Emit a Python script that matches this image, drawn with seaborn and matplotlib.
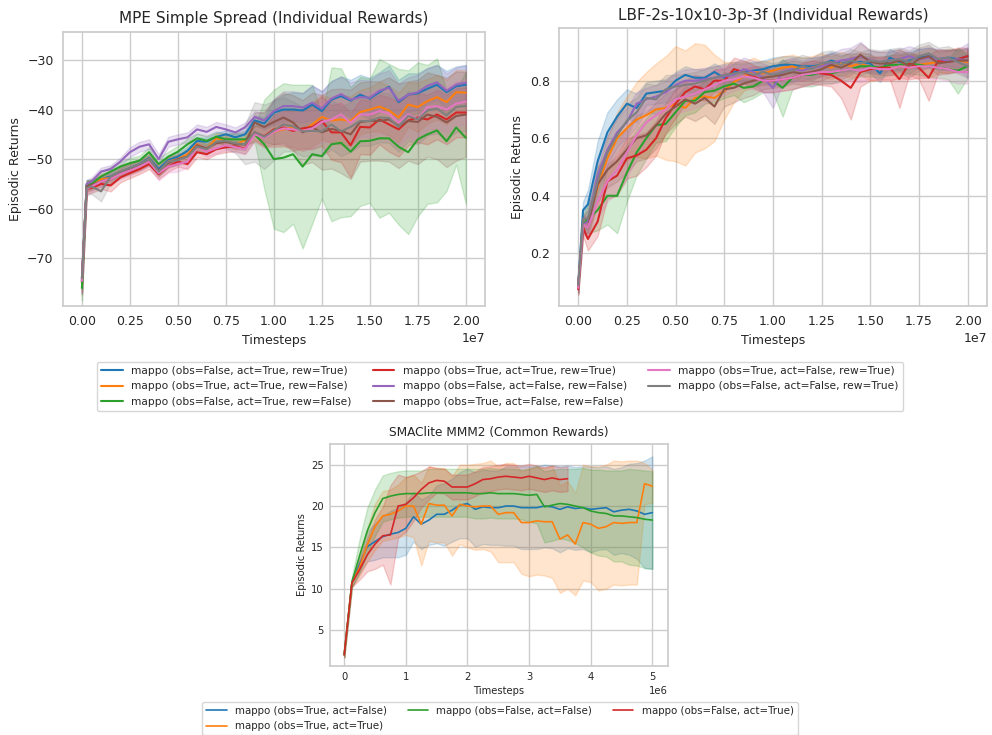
import matplotlib
matplotlib.use("Agg")
import matplotlib.pyplot as plt
from matplotlib.lines import Line2D
from matplotlib.ticker import MultipleLocator
import pandas as pd
import seaborn as sns

sns.set_theme(style="whitegrid")
plt.rcParams['font.family'] = ['DejaVu Sans']

# ---------------- data ----------------
STEPS_LONG_M = [0, 0.25, 0.5, 1.0, 1.5, 2.0, 2.5, 3.0, 3.5, 4.0, 4.5, 5.0, 5.5, 6.0, 6.5,
                7.0, 7.5, 8.0, 8.5, 9.0, 9.5, 10.0, 10.5, 11.0, 11.5, 12.0, 12.5, 13.0,
                13.5, 14.0, 14.5, 15.0, 15.5, 16.0, 16.5, 17.0, 17.5, 18.0, 18.5, 19.0,
                19.5, 20.0]

LABELS_8 = [
    "mappo (obs=False, act=True, rew=True)",
    "mappo (obs=True, act=True, rew=False)",
    "mappo (obs=False, act=True, rew=False)",
    "mappo (obs=True, act=True, rew=True)",
    "mappo (obs=False, act=False, rew=False)",
    "mappo (obs=True, act=False, rew=False)",
    "mappo (obs=True, act=False, rew=True)",
    "mappo (obs=False, act=False, rew=True)",
]
COLORS_8 = ["#1f77b4", "#ff7f0e", "#2ca02c", "#d62728", "#9467bd", "#8c564b", "#e377c2", "#7f7f7f"]

# MPE means
MPE_BLUE = [-74.8, -55.2, -55.0, -54.0, -53.5, -52.5, -51.8, -51.0, -49.8, -52.0,
            -50.2, -49.5, -48.3, -46.3, -46.5, -45.5, -45.0, -45.6, -45.0, -42.2,
            -42.8, -40.6, -40.0, -40.0, -40.2, -39.0, -40.3, -38.0, -37.3, -38.2,
            -37.0, -37.8, -36.5, -35.4, -38.5, -37.0, -36.7, -35.8, -35.0, -36.5,
            -35.3, -35.0]
MPE_ORANGE = [-75.0, -55.5, -55.2, -54.0, -53.8, -52.5, -52.0, -51.2, -50.0, -52.5,
              -50.5, -50.0, -49.0, -47.0, -48.0, -45.8, -46.2, -47.0, -46.2, -44.8,
              -45.5, -44.5, -44.0, -43.6, -44.3, -43.0, -41.5, -42.2, -42.0, -42.3,
              -40.5, -40.0, -39.4, -40.2, -41.6, -39.0, -39.5, -38.3, -37.5, -38.5,
              -36.5, -36.6]
MPE_GREEN = [-76.0, -55.0, -55.0, -53.5, -52.5, -51.5, -50.8, -50.3, -48.6, -51.0,
             -49.5, -48.5, -47.0, -45.8, -46.3, -45.5, -46.0, -46.0, -46.0, -45.0,
             -47.0, -50.0, -49.7, -49.0, -51.5, -49.0, -49.4, -47.0, -46.7, -48.5,
             -46.4, -46.3, -45.8, -45.8, -47.5, -48.6, -46.0, -45.0, -44.2, -46.4,
             -43.6, -45.7]
MPE_RED = [-74.0, -56.0, -55.8, -55.0, -55.3, -53.7, -52.8, -52.0, -51.0, -53.0,
           -51.5, -50.5, -51.0, -48.6, -49.0, -48.0, -47.6, -47.4, -47.9, -44.6,
           -45.4, -44.0, -43.6, -44.3, -43.8, -43.5, -42.3, -44.6, -44.6, -47.2,
           -43.5, -43.6, -42.0, -43.0, -44.0, -42.2, -41.6, -42.0, -41.0, -42.0,
           -40.6, -40.6]
MPE_PURPLE = [-74.5, -55.0, -54.5, -52.5, -52.0, -50.5, -48.6, -47.5, -47.0, -50.0,
              -46.5, -46.0, -45.6, -44.0, -44.5, -43.5, -44.0, -44.6, -43.6, -41.5,
              -42.2, -40.3, -39.3, -39.3, -39.6, -38.6, -39.8, -37.8, -36.9, -38.0,
              -37.5, -37.6, -36.2, -35.6, -38.2, -37.0, -36.5, -35.2, -34.5, -36.2,
              -35.0, -34.6]
MPE_BROWN = [-74.5, -55.5, -55.2, -54.5, -54.0, -52.8, -52.0, -51.3, -50.3, -52.3,
             -50.8, -50.0, -49.5, -47.2, -47.8, -46.8, -46.5, -47.0, -47.0, -42.6,
             -43.5, -42.5, -41.6, -42.6, -44.6, -43.6, -44.6, -43.9, -44.3, -45.0,
             -42.5, -42.3, -42.3, -42.0, -43.3, -42.3, -42.5, -41.0, -41.5, -42.6,
             -41.3, -41.0]
MPE_PINK = [-74.5, -56.0, -55.5, -54.5, -54.0, -53.0, -52.3, -51.5, -50.5, -52.8,
            -51.5, -51.0, -50.5, -47.5, -48.5, -47.8, -47.2, -47.6, -48.0, -45.0,
            -45.7, -44.5, -43.8, -44.0, -44.3, -43.8, -42.5, -42.0, -41.0, -42.7,
            -41.0, -41.0, -40.3, -40.8, -42.6, -41.0, -42.0, -39.5, -39.3, -40.0,
            -38.8, -38.4]
MPE_GRAY = [-74.0, -55.8, -55.5, -56.5, -53.5, -52.5, -51.8, -51.0, -50.0, -52.5,
            -50.5, -50.2, -49.5, -47.5, -48.0, -46.5, -46.3, -46.8, -47.0, -44.5,
            -45.5, -44.2, -43.0, -43.4, -44.4, -44.3, -44.4, -43.0, -44.4, -43.5,
            -42.3, -42.3, -41.6, -41.7, -43.5, -41.3, -42.0, -40.2, -39.8, -41.2,
            -39.5, -39.3]

# MPE band half-widths
MPE_BLUE_HW = [2.5, 1.0, 0.8, 0.8, 0.8, 0.8, 0.8, 0.8, 0.8, 1.0,
               0.8, 0.8, 0.8, 0.8, 0.8, 0.8, 0.8, 0.8, 0.8, 1.0,
               1.2, 2.5, 3.0, 3.5, 3.5, 3.8, 4.0, 3.8, 4.0, 4.2,
               4.0, 4.2, 4.0, 4.3, 4.5, 4.3, 4.0, 4.2, 4.0, 4.3,
               4.0, 4.0]
MPE_ORANGE_HW = [2.5, 1.0, 1.0, 1.0, 1.5, 1.0, 1.0, 1.0, 1.0, 1.0,
                 1.0, 1.0, 1.0, 1.0, 1.0, 1.0, 1.0, 1.0, 1.0, 1.5,
                 2.0, 3.0, 3.5, 4.0, 4.0, 4.5, 4.5, 4.5, 5.0, 5.0,
                 4.5, 4.5, 5.0, 5.0, 5.0, 4.5, 5.0, 4.5, 4.5, 4.5,
                 4.5, 4.5]
MPE_GREEN_HW = [2.5, 0.8, 0.8, 1.0, 1.0, 1.0, 1.0, 1.0, 1.0, 1.2,
                1.0, 1.2, 1.2, 1.0, 1.0, 1.0, 1.2, 1.2, 1.2, 1.5,
                9.0, 14.0, 15.0, 14.0, 16.5, 14.0, 8.5, 15.5, 15.0, 13.0,
                13.0, 12.5, 16.0, 15.0, 15.7, 16.5, 15.5, 14.0, 14.5, 10.0,
                7.5, 13.3]
MPE_RED_HW = [2.5, 1.0, 1.0, 1.0, 1.2, 1.0, 1.0, 1.0, 1.0, 1.0,
              1.0, 1.0, 1.0, 1.0, 1.0, 1.0, 1.0, 1.0, 1.0, 1.5,
              2.0, 3.0, 3.5, 4.0, 4.0, 4.5, 5.0, 5.5, 6.0, 6.5,
              5.5, 5.5, 5.0, 5.5, 5.5, 5.0, 5.0, 5.0, 5.0, 5.0,
              5.0, 5.0]
MPE_PURPLE_HW = [2.5, 0.8, 0.8, 0.8, 0.8, 0.8, 1.0, 1.0, 1.0, 1.0,
                 1.0, 1.0, 1.0, 1.0, 1.0, 1.0, 1.0, 1.0, 1.0, 1.2,
                 1.5, 2.5, 3.0, 3.0, 3.0, 3.5, 3.5, 3.5, 3.5, 3.5,
                 3.5, 3.5, 3.5, 3.5, 3.5, 3.5, 3.5, 3.5, 3.5, 3.5,
                 3.5, 3.5]
MPE_BROWN_HW = [2.5, 1.0, 1.0, 1.0, 1.0, 1.0, 1.0, 1.0, 1.0, 1.0,
                1.0, 1.0, 1.0, 1.0, 1.0, 1.0, 1.0, 1.0, 1.2, 2.0,
                3.0, 4.5, 5.0, 5.5, 6.5, 7.0, 7.5, 8.0, 8.5, 9.0,
                8.0, 8.0, 8.0, 8.5, 8.5, 8.0, 8.5, 8.5, 8.5, 9.0,
                9.0, 8.5]
MPE_PINK_HW = [2.5, 1.0, 1.0, 1.0, 1.0, 1.0, 1.0, 1.0, 1.0, 1.5,
               1.2, 1.5, 1.2, 1.0, 1.0, 1.0, 1.0, 1.0, 1.0, 1.5,
               2.0, 3.0, 3.5, 3.5, 4.0, 4.0, 4.0, 4.5, 4.5, 4.5,
               4.5, 4.5, 4.5, 4.5, 4.5, 4.5, 4.5, 4.5, 4.5, 4.5,
               4.5, 4.5]
MPE_GRAY_HW = [3.0, 1.5, 1.5, 2.0, 1.2, 1.0, 1.0, 1.0, 1.0, 1.0,
               1.0, 1.0, 1.0, 1.0, 1.0, 1.0, 1.5, 2.0, 4.0, 6.0,
               6.5, 6.0, 5.5, 5.0, 5.0, 5.0, 5.0, 5.0, 5.0, 5.0,
               5.0, 5.0, 5.0, 5.0, 5.0, 5.0, 5.0, 5.0, 5.0, 5.0,
               5.0, 5.0]

# LBF means
LBF_BLUE = [0.085, 0.35, 0.37, 0.52, 0.62, 0.675, 0.72, 0.705, 0.755, 0.76,
            0.765, 0.80, 0.82, 0.81, 0.81, 0.83, 0.81, 0.83, 0.83, 0.835,
            0.84, 0.85, 0.855, 0.855, 0.85, 0.85, 0.855, 0.87, 0.86, 0.865,
            0.865, 0.86, 0.825, 0.88, 0.865, 0.87, 0.88, 0.885, 0.875, 0.88,
            0.875, 0.885]
LBF_ORANGE = [0.08, 0.30, 0.31, 0.43, 0.53, 0.60, 0.635, 0.665, 0.68, 0.70,
              0.705, 0.72, 0.705, 0.74, 0.745, 0.74, 0.765, 0.795, 0.815, 0.83,
              0.825, 0.835, 0.845, 0.85, 0.84, 0.845, 0.855, 0.845, 0.86, 0.85,
              0.86, 0.845, 0.84, 0.84, 0.85, 0.845, 0.855, 0.86, 0.865, 0.87,
              0.87, 0.865]
LBF_GREEN = [0.08, 0.30, 0.32, 0.35, 0.40, 0.40, 0.48, 0.55, 0.60, 0.645,
             0.65, 0.69, 0.73, 0.73, 0.76, 0.765, 0.78, 0.79, 0.775, 0.78,
             0.80, 0.80, 0.775, 0.81, 0.82, 0.82, 0.83, 0.825, 0.835, 0.84,
             0.85, 0.85, 0.845, 0.855, 0.855, 0.86, 0.855, 0.85, 0.845, 0.84,
             0.835, 0.85]
LBF_RED = [0.075, 0.29, 0.25, 0.31, 0.45, 0.47, 0.53, 0.54, 0.56, 0.60,
           0.67, 0.72, 0.76, 0.78, 0.77, 0.80, 0.80, 0.84, 0.83, 0.815,
           0.80, 0.80, 0.805, 0.81, 0.82, 0.83, 0.825, 0.82, 0.80, 0.775,
           0.83, 0.84, 0.845, 0.845, 0.805, 0.86, 0.845, 0.81, 0.87, 0.865,
           0.875, 0.885]
LBF_PURPLE = [0.085, 0.30, 0.31, 0.47, 0.56, 0.62, 0.655, 0.72, 0.735, 0.745,
              0.76, 0.785, 0.80, 0.80, 0.805, 0.81, 0.815, 0.82, 0.84, 0.83,
              0.81, 0.775, 0.83, 0.84, 0.835, 0.845, 0.85, 0.86, 0.87, 0.875,
              0.885, 0.87, 0.865, 0.87, 0.875, 0.885, 0.875, 0.88, 0.875, 0.87,
              0.875, 0.87]
LBF_BROWN = [0.085, 0.30, 0.29, 0.44, 0.49, 0.52, 0.56, 0.60, 0.61, 0.645,
             0.685, 0.71, 0.735, 0.72, 0.74, 0.71, 0.77, 0.775, 0.79, 0.80,
             0.81, 0.815, 0.82, 0.83, 0.825, 0.83, 0.84, 0.855, 0.845, 0.86,
             0.89, 0.865, 0.86, 0.86, 0.87, 0.85, 0.875, 0.885, 0.86, 0.865,
             0.87, 0.87]
LBF_PINK = [0.08, 0.30, 0.29, 0.38, 0.45, 0.49, 0.55, 0.61, 0.655, 0.68,
            0.70, 0.735, 0.745, 0.755, 0.77, 0.785, 0.80, 0.805, 0.815, 0.81,
            0.80, 0.80, 0.805, 0.81, 0.82, 0.825, 0.83, 0.83, 0.835, 0.84,
            0.835, 0.845, 0.84, 0.84, 0.85, 0.845, 0.85, 0.85, 0.845, 0.84,
            0.83, 0.83]
LBF_GRAY = [0.09, 0.32, 0.32, 0.45, 0.55, 0.61, 0.66, 0.69, 0.74, 0.735,
            0.77, 0.78, 0.785, 0.79, 0.80, 0.81, 0.82, 0.825, 0.83, 0.82,
            0.83, 0.82, 0.83, 0.835, 0.85, 0.84, 0.86, 0.865, 0.855, 0.87,
            0.86, 0.87, 0.865, 0.87, 0.875, 0.865, 0.885, 0.895, 0.875, 0.88,
            0.865, 0.85]

# LBF band half-widths
LBF_BLUE_HW = [0.02, 0.03, 0.05, 0.07, 0.07, 0.06, 0.05, 0.05, 0.04, 0.04,
               0.04, 0.03, 0.03, 0.03, 0.03, 0.03, 0.03, 0.03, 0.03, 0.03,
               0.03, 0.03, 0.03, 0.03, 0.03, 0.03, 0.03, 0.03, 0.03, 0.03,
               0.03, 0.035, 0.03, 0.03, 0.03, 0.03, 0.03, 0.03, 0.03, 0.03,
               0.03, 0.03]
LBF_ORANGE_HW = [0.02, 0.03, 0.04, 0.06, 0.07, 0.09, 0.11, 0.13, 0.15, 0.16,
                 0.18, 0.20, 0.20, 0.19, 0.18, 0.15, 0.10, 0.07, 0.05, 0.05,
                 0.04, 0.04, 0.04, 0.04, 0.04, 0.04, 0.04, 0.04, 0.04, 0.04,
                 0.04, 0.045, 0.04, 0.04, 0.04, 0.04, 0.045, 0.05, 0.04, 0.04,
                 0.04, 0.035]
LBF_GREEN_HW = [0.02, 0.03, 0.05, 0.07, 0.10, 0.13, 0.10, 0.08, 0.07, 0.06,
                0.06, 0.05, 0.05, 0.04, 0.04, 0.04, 0.04, 0.04, 0.05, 0.04,
                0.04, 0.04, 0.10, 0.04, 0.04, 0.04, 0.04, 0.035, 0.035, 0.035,
                0.035, 0.035, 0.035, 0.035, 0.035, 0.035, 0.035, 0.035, 0.035, 0.035,
                0.08, 0.04]
LBF_RED_HW = [0.02, 0.03, 0.04, 0.05, 0.06, 0.07, 0.07, 0.07, 0.06, 0.06,
              0.05, 0.05, 0.04, 0.04, 0.04, 0.04, 0.04, 0.04, 0.04, 0.04,
              0.04, 0.04, 0.04, 0.04, 0.04, 0.04, 0.04, 0.04, 0.06, 0.11,
              0.05, 0.04, 0.04, 0.04, 0.10, 0.04, 0.04, 0.08, 0.04, 0.04,
              0.04, 0.03]
LBF_PURPLE_HW = [0.02, 0.03, 0.04, 0.05, 0.05, 0.05, 0.05, 0.04, 0.04, 0.04,
                 0.04, 0.04, 0.04, 0.04, 0.04, 0.04, 0.04, 0.04, 0.04, 0.04,
                 0.05, 0.07, 0.04, 0.04, 0.035, 0.035, 0.035, 0.035, 0.04, 0.04,
                 0.05, 0.035, 0.035, 0.035, 0.035, 0.035, 0.035, 0.035, 0.035, 0.035,
                 0.035, 0.06]
LBF_BROWN_HW = [0.02, 0.03, 0.04, 0.06, 0.06, 0.07, 0.08, 0.08, 0.08, 0.08,
                0.07, 0.06, 0.06, 0.06, 0.06, 0.06, 0.06, 0.05, 0.05, 0.05,
                0.04, 0.04, 0.04, 0.04, 0.04, 0.04, 0.04, 0.04, 0.04, 0.04,
                0.04, 0.04, 0.04, 0.04, 0.04, 0.04, 0.04, 0.04, 0.04, 0.04,
                0.04, 0.04]
LBF_PINK_HW = [0.02, 0.03, 0.04, 0.06, 0.07, 0.08, 0.09, 0.08, 0.07, 0.06,
               0.06, 0.05, 0.05, 0.05, 0.05, 0.05, 0.05, 0.04, 0.04, 0.04,
               0.04, 0.04, 0.04, 0.04, 0.04, 0.04, 0.04, 0.04, 0.04, 0.04,
               0.04, 0.04, 0.04, 0.04, 0.04, 0.04, 0.04, 0.04, 0.04, 0.04,
               0.04, 0.04]
LBF_GRAY_HW = [0.02, 0.03, 0.04, 0.05, 0.06, 0.06, 0.06, 0.05, 0.05, 0.05,
               0.05, 0.04, 0.04, 0.04, 0.04, 0.04, 0.04, 0.04, 0.04, 0.04,
               0.04, 0.04, 0.04, 0.04, 0.04, 0.04, 0.04, 0.04, 0.04, 0.04,
               0.04, 0.04, 0.04, 0.04, 0.04, 0.04, 0.04, 0.04, 0.04, 0.04,
               0.04, 0.04]

# SMAClite
STEPS_SMAC_M = [0.0, 0.125, 0.25, 0.375, 0.5, 0.625, 0.75, 0.875, 1.0, 1.125, 1.25,
                1.375, 1.5, 1.625, 1.75, 1.875, 2.0, 2.125, 2.25, 2.375, 2.5, 2.625,
                2.75, 2.875, 3.0, 3.125, 3.25, 3.375, 3.5, 3.625, 3.75, 3.875, 4.0,
                4.125, 4.25, 4.375, 4.5, 4.625, 4.75, 4.875, 5.0]
LABELS_4 = [
    "mappo (obs=True, act=False)",
    "mappo (obs=True, act=True)",
    "mappo (obs=False, act=False)",
    "mappo (obs=False, act=True)",
]
COLORS_4 = ["#1f77b4", "#ff7f0e", "#2ca02c", "#d62728"]

SMAC_BLUE = [2.0, 10.7, 12.9, 15.1, 15.7, 16.3, 16.6, 16.8, 17.3, 18.7, 17.8, 18.3, 19.0,
             19.0, 19.5, 20.1, 20.3, 19.6, 19.9, 19.8, 19.8, 20.0, 20.0, 19.8, 19.8, 19.8,
             20.0, 19.9, 19.6, 19.9, 19.7, 19.8, 19.6, 19.7, 19.8, 19.3, 19.5, 19.6, 19.4,
             19.0, 19.2]
SMAC_ORANGE = [2.0, 10.7, 12.6, 15.3, 17.5, 18.8, 19.0, 19.4, 20.0, 20.0, 17.8, 20.3, 20.1,
               20.1, 18.8, 20.2, 20.0, 19.9, 20.0, 20.0, 19.0, 19.2, 19.2, 18.0, 18.0, 18.2,
               18.1, 18.1, 16.0, 16.5, 15.4, 18.0, 17.8, 17.3, 17.5, 18.0, 17.9, 18.0, 18.0,
               22.7, 22.4]
SMAC_GREEN = [2.0, 10.8, 14.0, 17.0, 19.2, 20.9, 21.2, 21.4, 21.5, 21.5, 21.5, 21.6, 21.6,
              21.6, 21.6, 21.6, 21.6, 21.5, 21.5, 21.6, 21.5, 21.5, 21.5, 21.4, 21.3, 21.4,
              19.9, 20.1, 20.3, 20.2, 20.0, 19.8, 19.4, 19.2, 19.1, 18.8, 18.8, 18.7, 18.6,
              18.4, 18.3]
SMAC_RED = [2.0, 10.7, 12.3, 14.1, 15.4, 16.4, 16.5, 20.0, 20.2, 21.0, 22.0, 22.8, 23.1,
            23.0, 22.3, 22.3, 22.3, 22.7, 23.2, 23.3, 23.5, 23.6, 23.5, 23.4, 23.6, 23.4,
            23.2, 23.4, 23.2, 23.3]

SMAC_BLUE_HW = [0.3, 0.5, 1.0, 1.8, 2.2, 2.5, 2.8, 3.0, 3.2, 3.0, 3.0, 3.0, 3.5, 3.8, 3.8,
                4.0, 4.2, 4.5, 4.5, 4.5, 4.5, 4.8, 4.8, 5.0, 5.0, 5.0, 5.0, 5.0, 5.2, 5.0,
                5.0, 5.0, 5.2, 5.0, 5.0, 5.2, 5.2, 5.5, 5.8, 6.5, 6.8]
SMAC_ORANGE_HW = [0.3, 0.5, 1.0, 2.0, 2.8, 3.0, 3.0, 3.2, 3.5, 3.8, 5.0, 4.5, 4.5, 4.5, 4.8,
                  4.8, 5.0, 5.2, 5.2, 5.5, 5.8, 6.0, 6.0, 6.2, 6.5, 6.5, 6.5, 6.8, 6.5, 6.5,
                  6.2, 7.0, 7.0, 7.5, 7.5, 7.5, 7.5, 7.5, 7.5, 2.5, 2.0]
SMAC_GREEN_HW = [0.3, 0.6, 2.0, 2.8, 2.8, 2.8, 2.8, 2.8, 2.8, 2.8, 2.8, 2.9, 2.9, 2.9, 2.9,
                 2.9, 2.9, 3.0, 3.0, 3.0, 3.0, 3.0, 3.0, 3.0, 3.2, 3.5, 4.3, 4.3, 4.2, 4.3,
                 4.5, 4.8, 5.0, 5.2, 5.2, 5.5, 5.5, 5.8, 5.8, 5.9, 5.9]
SMAC_RED_HW = [0.3, 0.5, 1.2, 2.0, 3.0, 3.5, 6.0, 3.8, 3.3, 2.8, 2.2, 2.0, 1.5, 1.5, 1.5,
               1.5, 1.5, 1.5, 1.5, 1.5, 1.5, 1.5, 1.5, 1.5, 1.5, 1.5, 1.5, 1.5, 1.5, 1.5]


def long_frame(steps_m, labels, means, hws):
    rows = []
    for name, mean, hw in zip(labels, means, hws):
        for x, m, h in zip(steps_m, mean, hw):
            for v in (m - h, m, m + h):
                rows.append((x * 1e6, v, name))
    return pd.DataFrame(rows, columns=["Timesteps", "Episodic Returns", "method"])


def draw(ax, df, labels, colors, lw, title, tfs, lfs, kfs, tlen, tpad):
    sns.lineplot(data=df, x="Timesteps", y="Episodic Returns", hue="method",
                 hue_order=labels, palette=colors, estimator="mean",
                 errorbar=("pi", 100), linewidth=lw, ax=ax, legend=False)
    ax.set_title(title, fontsize=tfs, color=".15")
    ax.set_xlabel("Timesteps", fontsize=lfs, color=".15")
    ax.set_ylabel("Episodic Returns", fontsize=lfs, color=".15")
    ax.tick_params(labelsize=kfs, length=tlen, pad=tpad)
    ax.xaxis.get_offset_text().set_fontsize(kfs)


fig = plt.figure(figsize=(9.92, 7.35), dpi=100)
fig.patch.set_facecolor("white")

ax1 = fig.add_axes([0.0632, 0.5837, 0.4257, 0.3732])
ax2 = fig.add_axes([0.5632, 0.5837, 0.4318, 0.3782])
ax3 = fig.add_axes([0.3327, 0.0939, 0.3404, 0.3020])

df_mpe = long_frame(STEPS_LONG_M, LABELS_8,
                    [MPE_BLUE, MPE_ORANGE, MPE_GREEN, MPE_RED, MPE_PURPLE, MPE_BROWN, MPE_PINK, MPE_GRAY],
                    [MPE_BLUE_HW, MPE_ORANGE_HW, MPE_GREEN_HW, MPE_RED_HW, MPE_PURPLE_HW,
                     MPE_BROWN_HW, MPE_PINK_HW, MPE_GRAY_HW])
draw(ax1, df_mpe, LABELS_8, COLORS_8, 1.5, "MPE Simple Spread (Individual Rewards)",
     11, 9, 9, 3, 3.5)
ax1.set_xlim(-1.0e6, 2.1e7)
ax1.set_ylim(-79.6, -24.3)
ax1.xaxis.set_major_locator(MultipleLocator(2.5e6))
ax1.yaxis.set_major_locator(MultipleLocator(10))

df_lbf = long_frame(STEPS_LONG_M, LABELS_8,
                    [LBF_BLUE, LBF_ORANGE, LBF_GREEN, LBF_RED, LBF_PURPLE, LBF_BROWN, LBF_PINK, LBF_GRAY],
                    [LBF_BLUE_HW, LBF_ORANGE_HW, LBF_GREEN_HW, LBF_RED_HW, LBF_PURPLE_HW,
                     LBF_BROWN_HW, LBF_PINK_HW, LBF_GRAY_HW])
draw(ax2, df_lbf, LABELS_8, COLORS_8, 1.5, "LBF-2s-10x10-3p-3f (Individual Rewards)",
     11, 9, 9, 3, 3.5)
ax2.set_xlim(-1.0e6, 2.1e7)
ax2.set_ylim(0.017, 0.983)
ax2.xaxis.set_major_locator(MultipleLocator(2.5e6))
ax2.yaxis.set_major_locator(MultipleLocator(0.2))

df_smac = long_frame(STEPS_SMAC_M, LABELS_4,
                     [SMAC_BLUE, SMAC_ORANGE, SMAC_GREEN, SMAC_RED],
                     [SMAC_BLUE_HW, SMAC_ORANGE_HW, SMAC_GREEN_HW, SMAC_RED_HW])
draw(ax3, df_smac, LABELS_4, COLORS_4, 1.2, "SMAClite MMM2 (Common Rewards)",
     8.7, 7.2, 7.2, 2, 2.5)
ax3.set_xlim(-0.23e6, 5.25e6)
ax3.set_ylim(0.65, 27.5)
ax3.xaxis.set_major_locator(MultipleLocator(1e6))
ax3.yaxis.set_major_locator(MultipleLocator(5))
ax3.xaxis.labelpad = 2.5
ax3.yaxis.labelpad = 3

h8 = [Line2D([], [], color=c, lw=1.5) for c in COLORS_8]
fig.legend(h8, LABELS_8, loc="upper center", bbox_to_anchor=(0.504, 0.515), ncol=3,
           fontsize=7.7, frameon=True)
h4 = [Line2D([], [], color=c, lw=1.2) for c in COLORS_4]
fig.legend(h4, LABELS_4, loc="upper center", bbox_to_anchor=(0.504, 0.052), ncol=3,
           fontsize=7.4, frameon=True)

fig.savefig("out.png", dpi=100, facecolor="white")
